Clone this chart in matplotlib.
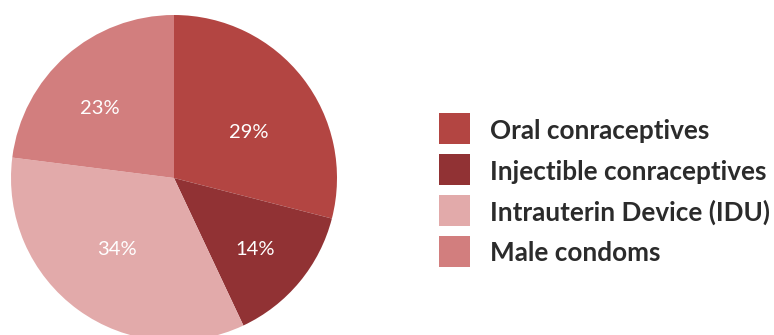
import numpy as np
import matplotlib.pyplot as plt
from matplotlib.patches import Rectangle

plt.rcParams['font.family'] = ['Lato', 'DejaVu Sans']

methods = ["Oral conraceptives", "Injectible conraceptives",
           "Intrauterin Device (IDU)", "Male condoms"]
shares = [29, 14, 34, 23]
colors = ["#B34542", "#913234", "#E2AAAA", "#D27E7E"]
# percentage placement: fraction of radius, and a small angular nudge (deg)
label_dist = [0.54, 0.665, 0.563, 0.625]
label_turn = [-6.3, -2.0, -2.4, 5.2]

W, H = 774, 335
fig = plt.figure(figsize=(W / 100, H / 100), dpi=100)

# pie placed in pixel terms: centre (174, 178 from top), radius 163
cx, cy, r = 174, H - 178, 163
ax = fig.add_axes([(cx - r) / W, (cy - r) / H, 2 * r / W, 2 * r / H])
wedges, _ = ax.pie(shares, colors=colors, startangle=90, counterclock=False,
                   wedgeprops=dict(linewidth=0))
for w, s, d, t in zip(wedges, shares, label_dist, label_turn):
    mid = np.deg2rad((w.theta1 + w.theta2) / 2 + t)
    ax.text(d * np.cos(mid), d * np.sin(mid), f"{s}%", color="white",
            fontsize=14.5, ha="center", va="center")
ax.set_xlim(-1, 1)
ax.set_ylim(-1, 1)
ax.set_aspect("equal")
ax.axis("off")

# legend drawn by hand: 31px squares, 41px row pitch
sq, pitch = 31, 40.8
x0, y0 = 439, 129
for i, (name, c) in enumerate(zip(methods, colors)):
    yc = H - (y0 + i * pitch)
    fig.patches.append(Rectangle((x0 / W, (yc - sq / 2) / H), sq / W, sq / H,
                                 transform=fig.transFigure, facecolor=c,
                                 edgecolor="none"))
    fig.text(490 / W, yc / H, name, fontsize=18.8, fontweight="bold",
             color="#2b2b2b", ha="left", va="center_baseline")

fig.savefig("out.png", dpi=100)
